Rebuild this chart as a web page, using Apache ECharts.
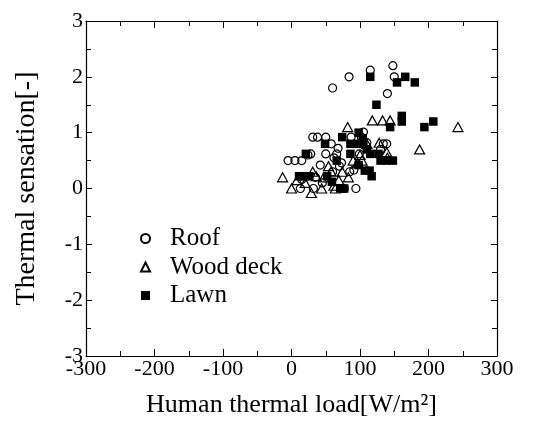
<!DOCTYPE html>
<html>
<head>
<meta charset="utf-8">
<script src="https://cdn.jsdelivr.net/npm/echarts@6/dist/echarts.min.js"></script>
<style>html,body{margin:0;padding:0;background:#fff}#c{width:534px;height:423px}</style>
</head>
<body>
<div id="c"></div>
<script>
var seriesNames = ['Roof', 'Wood deck', 'Lawn'];
var xTicks = [-300, -200, -100, 0, 100, 200, 300];
var yTicks = [-3, -2, -1, 0, 1, 2, 3];

var roof = [
  [84,2.0],[60,1.8],[115,2.12],[148,2.2],[150,2.0],[140,1.7],
  [-5,0.5],[5,0.5],[15,0.5],[28,0.62],[31,0.92],[38,0.92],[50,0.92],[58,0.8],
  [50,0.62],[42,0.42],[68,0.72],[66,0.62],[73,0.46],[77,0],[94,0],[13,0],[32,0],
  [87,0.92],[102,0.92],[105,1.01],[99,0.62],[91,0.33],[134,0.8],[139,0.8],
  [15,0.16],[60,0.3],[35,0.2],[110,0.82],[70,0.4],[45,0.1],[85,0.3],[62,0.55],
  [24,0.6],[130,0.7]
];
var woodDeck = [
  [-13,0.2],[0,0],[8,0.15],[29,-0.08],[44,0],[64,0],[82,1.1],[118,1.22],[133,1.22],
  [144,1.22],[128,0.82],[139,0.65],[187,0.7],[243,1.1],[31,0.3],[54,0.4],[74,0.3],
  [83,0.2],[69,0.15],[103,0.5],[100,0.6],[110,0.8],[47,0.2],[58,0.3],[20,0.1],
  [36,0.22],[90,0.5],[140,0.55],[62,0.05],[96,0.45]
];
var lawn = [
  [115,2.0],[154,1.9],[166,2.0],[180,1.9],[124,1.5],[161,1.3],[161,1.2],[144,1.1],
  [194,1.1],[207,1.2],[21,0.62],[11,0.22],[19,0.22],[26,0.22],[49,0.8],[74,0.92],
  [98,1.0],[66,0.5],[86,0.62],[86,0.8],[96,0.8],[105,0.8],[110,0.7],[115,0.62],
  [127,0.62],[130,0.5],[139,0.5],[148,0.5],[98,0.42],[107,0.32],[114,0.32],
  [117,0.22],[52,0.22],[59,0.12],[71,0],[77,0],[104,0.9]
];

var FONT = '"Liberation Serif","Times New Roman",serif';
var chart = echarts.init(document.getElementById('c'), null, {renderer: 'canvas'});

var axisLine = {show: true, onZero: false, lineStyle: {color: '#000', width: 1.2}};
function tickCfg(len) { return {show: true, inside: true, length: len, lineStyle: {color: '#000', width: 1}}; }
function minorCfg() { return {show: true, splitNumber: 2, length: 5, lineStyle: {color: '#000', width: 1}}; }

var option = {
  backgroundColor: '#fff',
  animation: false,
  grid: {left: 86, right: 37, top: 21, bottom: 67, show: false},
  legend: {
    orient: 'vertical',
    left: 135, top: 221,
    itemWidth: 9, itemHeight: 9, itemGap: 3.5,
    data: seriesNames,
    textStyle: {fontFamily: FONT, fontSize: 25, color: '#000', lineHeight: 25, padding: [0, 0, 0, 15]}
  },
  xAxis: [{
    type: 'value', position: 'bottom', min: xTicks[0], max: xTicks[xTicks.length - 1], interval: 100,
    name: 'Human thermal load[W/m²]', nameLocation: 'middle', nameGap: 36,
    nameTextStyle: {fontFamily: FONT, fontSize: 26, color: '#000'},
    axisLine: axisLine, axisTick: tickCfg(7), minorTick: minorCfg(), splitLine: {show: false},
    axisLabel: {fontFamily: FONT, fontSize: 22, color: '#000', margin: 2}
  }, {
    type: 'value', position: 'top', min: xTicks[0], max: xTicks[xTicks.length - 1], interval: 100,
    axisLine: axisLine, axisTick: tickCfg(7), minorTick: minorCfg(), splitLine: {show: false},
    axisLabel: {show: false}
  }],
  yAxis: [{
    type: 'value', position: 'left', min: yTicks[0], max: yTicks[yTicks.length - 1], interval: 1,
    name: 'Thermal sensation[-]', nameLocation: 'middle', nameGap: 45,
    nameTextStyle: {fontFamily: FONT, fontSize: 28, color: '#000'},
    axisLine: axisLine, axisTick: tickCfg(6), minorTick: minorCfg(), splitLine: {show: false},
    axisLabel: {fontFamily: FONT, fontSize: 22, color: '#000', margin: 3}
  }, {
    type: 'value', position: 'right', min: yTicks[0], max: yTicks[yTicks.length - 1], interval: 1,
    axisLine: axisLine, axisTick: tickCfg(6), minorTick: minorCfg(), splitLine: {show: false},
    axisLabel: {show: false}
  }],
  series: [{
    name: seriesNames[0], type: 'scatter', data: roof, symbol: 'circle', symbolSize: 8,
    itemStyle: {color: 'rgba(255,255,255,0)', borderColor: '#000', borderWidth: 1.2, opacity: 1}
  }, {
    name: seriesNames[1], type: 'scatter', data: woodDeck, symbol: 'triangle', symbolSize: [10, 9],
    itemStyle: {color: 'rgba(255,255,255,0)', borderColor: '#000', borderWidth: 1.2, opacity: 1}
  }, {
    name: seriesNames[2], type: 'scatter', data: lawn, symbol: 'rect', symbolSize: 8.5,
    itemStyle: {color: '#000', borderColor: '#000', borderWidth: 0, opacity: 1}
  }]
};
chart.setOption(option);
</script>
</body>
</html>
